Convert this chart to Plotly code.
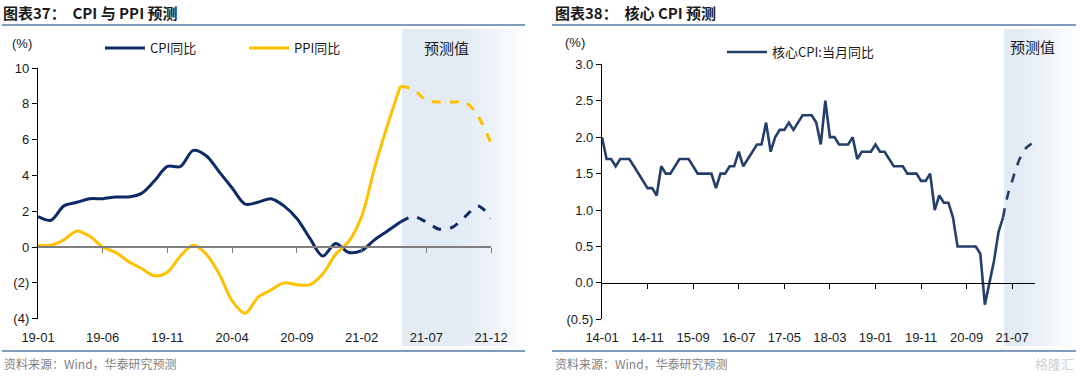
import plotly.graph_objects as go

W, H = 1080, 380

# ---------------- data: chart 37 (CPI & PPI) ----------------
left_months = [f"{y}-{m:02d}" for y in (19, 20, 21) for m in range(1, 13)]
left_tick_labels = ["19-01", "19-06", "19-11", "20-04", "20-09", "21-02", "21-07", "21-12"]
left_ytick_vals = [10, 8, 6, 4, 2, 0, -2, -4]
left_ytick_text = ["10", "8", "6", "4", "2", "0", "(2)", "(4)"]

cpi_actual = [1.7, 1.5, 2.3, 2.5, 2.7, 2.7, 2.8, 2.8, 3.0, 3.7, 4.5, 4.5,
              5.4, 5.1, 4.2, 3.3, 2.4, 2.5, 2.7, 2.3, 1.6, 0.5, -0.5, 0.2,
              -0.3, -0.2, 0.4, 0.9, 1.4]
cpi_forecast = [1.4, 1.7, 1.4, 1.0, 1.1, 1.7, 2.3, 1.6]          # 21-05 .. 21-12
ppi_actual = [0.1, 0.1, 0.4, 0.9, 0.6, 0.0, -0.3, -0.8, -1.2, -1.6, -1.4, -0.5,
              0.1, -0.4, -1.5, -3.0, -3.7, -2.8, -2.4, -2.0, -2.1, -2.1, -1.5, -0.4,
              0.3, 1.7, 4.4, 6.8, 9.0]
ppi_forecast = [9.0, 8.8, 8.2, 8.1, 8.1, 8.1, 7.3, 5.8]          # 21-05 .. 21-12

# ---------------- data: chart 38 (core CPI) ----------------
right_months = [f"{y}-{m:02d}" for y in range(14, 22) for m in range(1, 13)]
right_tick_labels = ["14-01", "14-11", "15-09", "16-07", "17-05", "18-03",
                     "19-01", "19-11", "20-09", "21-07"]
right_ytick_vals = [3.0, 2.5, 2.0, 1.5, 1.0, 0.5, 0.0, -0.5]
right_ytick_text = ["3.0", "2.5", "2.0", "1.5", "1.0", "0.5", "0.0", "(0.5)"]

core_actual = [2.0, 1.7, 1.7, 1.6, 1.7, 1.7, 1.7, 1.6, 1.5, 1.4, 1.3, 1.3,
               1.2, 1.6, 1.5, 1.5, 1.6, 1.7, 1.7, 1.7, 1.6, 1.5, 1.5, 1.5,
               1.5, 1.3, 1.5, 1.5, 1.6, 1.6, 1.8, 1.6, 1.7, 1.8, 1.9, 1.9,
               2.2, 1.8, 2.0, 2.1, 2.1, 2.2, 2.1, 2.2, 2.3, 2.3, 2.3, 2.2,
               1.9, 2.5, 2.0, 2.0, 1.9, 1.9, 1.9, 2.0, 1.7, 1.8, 1.8, 1.8,
               1.9, 1.8, 1.8, 1.7, 1.6, 1.6, 1.6, 1.5, 1.5, 1.5, 1.4, 1.4,
               1.5, 1.0, 1.2, 1.1, 1.1, 0.9, 0.5, 0.5, 0.5, 0.5, 0.5, 0.4,
               -0.3, 0.0, 0.3, 0.7, 0.9]
core_forecast = [0.9, 1.2, 1.4, 1.6, 1.75, 1.85, 1.9, 1.95]      # 21-05 .. 21-12

# ---------------- styles ----------------
NAVY = "#0e2a66"
GOLD = "#ffc000"
CORE = "#243f6b"
FONT = "Liberation Sans, Arial, Noto Sans CJK SC, sans-serif"
CJK = "Noto Sans CJK SC, Liberation Sans, sans-serif"


def px_x(v):
    return v / W


def px_y(v):
    return 1 - v / H


# plot domains (pixel based)
L_X = [px_x(38), px_x(491)]
L_Y = [px_y(318.7), px_y(68)]
R_X = [px_x(602), px_x(1035)]
R_Y = [px_y(319.3), px_y(64.3)]

n_act_l = len(cpi_actual)
fc_left_x = left_months[n_act_l - 1:]
n_act_r = len(core_actual)
fc_right_x = right_months[n_act_r - 1:]

fig = go.Figure()

fig.add_trace(go.Scatter(x=left_months[:n_act_l], y=cpi_actual, name="CPI同比",
                         mode="lines", line=dict(color=NAVY, width=3, shape="spline", smoothing=0.9),
                         xaxis="x", yaxis="y", legend="legend"))
fig.add_trace(go.Scatter(x=left_months[:len(ppi_actual)], y=ppi_actual, name="PPI同比",
                         mode="lines", line=dict(color=GOLD, width=3, shape="spline", smoothing=0.9),
                         xaxis="x", yaxis="y", legend="legend"))
fig.add_trace(go.Scatter(x=fc_left_x, y=cpi_forecast, name="CPI同比预测", showlegend=False,
                         mode="lines", line=dict(color=NAVY, width=3, dash="dash", shape="spline", smoothing=0.9),
                         xaxis="x", yaxis="y"))
fig.add_trace(go.Scatter(x=fc_left_x, y=ppi_forecast, name="PPI同比预测", showlegend=False,
                         mode="lines", line=dict(color=GOLD, width=3, dash="dash", shape="spline", smoothing=0.9),
                         xaxis="x", yaxis="y"))

fig.add_trace(go.Scatter(x=right_months[:n_act_r], y=core_actual, name="核心CPI:当月同比",
                         mode="lines", line=dict(color=CORE, width=2.6),
                         xaxis="x2", yaxis="y2", legend="legend2"))
fig.add_trace(go.Scatter(x=fc_right_x, y=core_forecast, name="核心CPI预测", showlegend=False,
                         mode="lines", line=dict(color=CORE, width=2.6, dash="dash", shape="spline"),
                         xaxis="x2", yaxis="y2"))

# empty carrier traces so the zero-line axes (with their tick marks) are drawn
fig.add_trace(go.Scatter(x=list(range(len(left_months))), y=[None] * len(left_months),
                         mode="lines", showlegend=False, hoverinfo="skip", xaxis="x3", yaxis="y"))
fig.add_trace(go.Scatter(x=list(range(len(right_months))), y=[None] * len(right_months),
                         mode="lines", showlegend=False, hoverinfo="skip", xaxis="x4", yaxis="y2"))

tickfont = dict(family=FONT, size=13, color="#1a1a1a")

# zero-line positions in paper coordinates
l_zero = L_Y[0] + (L_Y[1] - L_Y[0]) * (0 - (-4)) / (10 - (-4))
r_zero = R_Y[0] + (R_Y[1] - R_Y[0]) * (0 - (-0.5)) / (3.0 - (-0.5))

fig.update_layout(
    template="none",
    width=W, height=H,
    margin=dict(l=0, r=0, t=0, b=0, pad=0, autoexpand=False),
    paper_bgcolor="white",
    plot_bgcolor="rgba(0,0,0,0)",
    font=dict(family=FONT, size=13, color="#1a1a1a"),
    xaxis=dict(domain=L_X, anchor="y", type="category", range=[0, len(left_months) - 1],
               tickvals=left_tick_labels, ticktext=left_tick_labels, showline=False,
               showgrid=False, zeroline=False, ticks="", ticklabelstandoff=9, tickfont=tickfont,
               automargin=False),
    yaxis=dict(domain=L_Y, anchor="x", range=[-4, 10], tickvals=left_ytick_vals,
               ticktext=left_ytick_text, showline=True, linecolor="#000", linewidth=1.3,
               ticks="outside", ticklen=5, tickcolor="#000", tickwidth=1.3,
               showgrid=False, zeroline=False, tickfont=tickfont, automargin=False),
    xaxis3=dict(overlaying="x", anchor="free", position=l_zero, type="linear",
                range=[0, len(left_months) - 1], tickvals=[5, 10, 15, 20, 25, 30, 35],
                showticklabels=False, showline=True, linecolor="#7f7f7f", linewidth=1.6,
                ticks="outside", ticklen=5, tickcolor="#7f7f7f", tickwidth=1.3,
                showgrid=False, zeroline=False, automargin=False),
    xaxis2=dict(domain=R_X, anchor="y2", type="category", range=[0, len(right_months) - 1],
                tickvals=right_tick_labels, ticktext=right_tick_labels, showline=False,
                showgrid=False, zeroline=False, ticks="", ticklabelstandoff=9, tickfont=tickfont,
                tickangle=0, automargin=False),
    yaxis2=dict(domain=R_Y, anchor="x2", range=[-0.5, 3.0], tickvals=right_ytick_vals,
                ticktext=right_ytick_text, showline=True, linecolor="#000", linewidth=1.3,
                ticks="outside", ticklen=5, tickcolor="#000", tickwidth=1.3,
                showgrid=False, zeroline=False, tickfont=tickfont, automargin=False),
    xaxis4=dict(overlaying="x2", anchor="free", position=r_zero, type="linear",
                range=[0, len(right_months) - 1], tickvals=list(range(10, 95, 10)),
                showticklabels=False, showline=True, linecolor="#000", linewidth=1.3,
                ticks="outside", ticklen=5, tickcolor="#000", tickwidth=1.3,
                showgrid=False, zeroline=False, automargin=False),
    legend=dict(orientation="h", x=px_x(100), y=px_y(48), xanchor="left", yanchor="middle",
                bgcolor="rgba(0,0,0,0)", font=dict(family=CJK, size=13, color="#1a1a1a"),
                entrywidth=89, itemwidth=40),
    legend2=dict(orientation="h", x=px_x(722), y=px_y(52), xanchor="left", yanchor="middle",
                 bgcolor="rgba(0,0,0,0)", font=dict(family=CJK, size=13, color="#1a1a1a"),
                 itemwidth=40),
    showlegend=True,
)

shapes = []


def gradient(x0, x1, y0, y1, n=40, solid=0.45):
    out = []
    c0 = (227, 235, 245)
    c1 = (255, 255, 255)
    for i in range(n):
        t = i / (n - 1)
        tt = 0 if t < solid else ((t - solid) / (1 - solid)) ** 1.2
        col = tuple(round(c0[k] + (c1[k] - c0[k]) * tt) for k in range(3))
        xa = x0 + (x1 - x0) * i / n
        xb = x0 + (x1 - x0) * (i + 1) / n + 0.6
        out.append(dict(type="rect", xref="paper", yref="paper", x0=px_x(xa), x1=px_x(xb),
                        y0=px_y(y1), y1=px_y(y0), fillcolor="rgb(%d,%d,%d)" % col,
                        line=dict(width=0), layer="below"))
    return out


shapes += gradient(402, 528, 29, 346)
shapes += gradient(1004, 1078, 29, 346, n=24, solid=0.2)

# header / footer rules
for xa, xb in ((2, 525), (552, 1076)):
    shapes.append(dict(type="line", xref="paper", yref="paper", x0=px_x(xa), x1=px_x(xb),
                       y0=px_y(25), y1=px_y(25), line=dict(color="#7f9bbf", width=2)))
    shapes.append(dict(type="line", xref="paper", yref="paper", x0=px_x(xa), x1=px_x(xb),
                       y0=px_y(351), y1=px_y(351), line=dict(color="#7f9bbf", width=2)))
fig.update_layout(shapes=shapes)

ann = []


def text(x, y, s, size=13, color="#1a1a1a", xanchor="left", family=CJK, bold=False):
    ann.append(dict(xref="paper", yref="paper", x=px_x(x), y=px_y(y), text=("<b>%s</b>" % s) if bold else s,
                    showarrow=False, xanchor=xanchor, yanchor="middle",
                    font=dict(family=family, size=size, color=color)))


text(1, 13, "图表37：  CPI 与 PPI 预测", size=15, bold=True)
text(553, 13, "图表38：  核心 CPI 预测", size=15, bold=True)
text(10, 43, "(%)", size=13, family=FONT)
text(563, 42, "(%)", size=13, family=FONT)
text(447, 47, "预测值", size=15, xanchor="center")
text(1032, 46, "预测值", size=15, xanchor="center")
text(2, 363, "资料来源：Wind，华泰研究预测", size=12, color="#7f7f7f")
text(553, 363, "资料来源：Wind，华泰研究预测", size=12, color="#7f7f7f")
text(1076, 363, "格隆汇", size=13, color="#d0d0d0", xanchor="right")
fig.update_layout(annotations=ann)

fig.write_html("out.html", config={"displayModeBar": False},
               post_script="document.body.style.margin='0px';document.body.style.overflow='hidden';")
